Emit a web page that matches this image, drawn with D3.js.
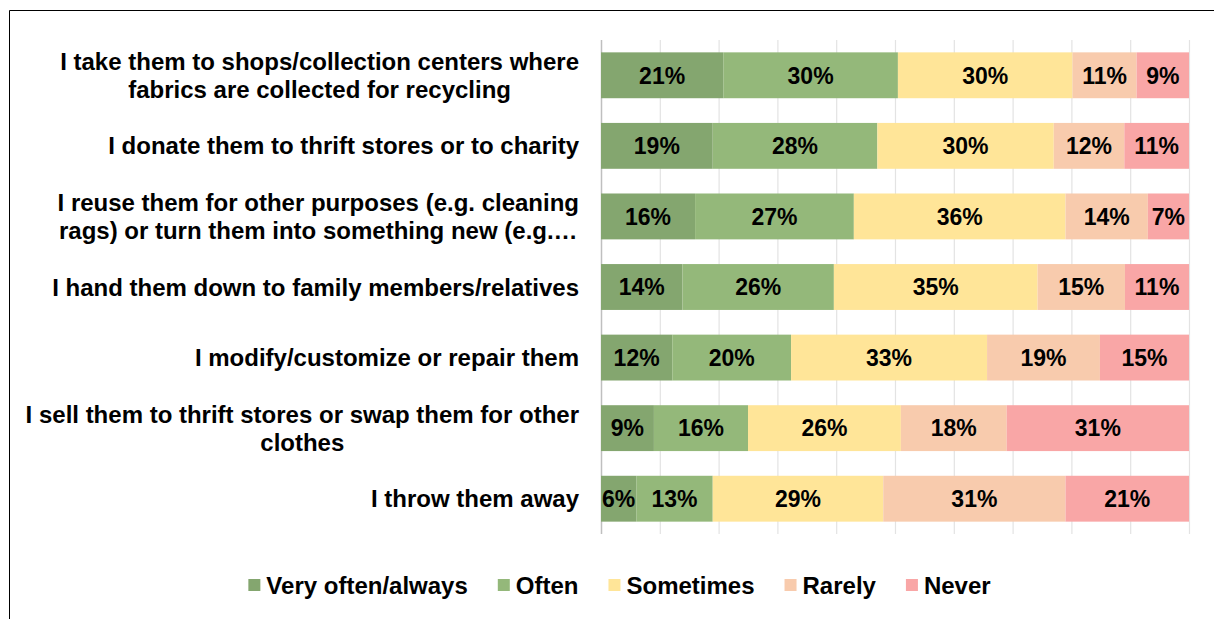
<!DOCTYPE html>
<html>
<head>
<meta charset="utf-8">
<script src="https://cdn.jsdelivr.net/npm/d3@7"></script>
<style>
  html, body { margin: 0; padding: 0; background: #fff; }
  svg { display: block; font-family: "Liberation Sans", Arial, sans-serif; font-weight: bold; }
</style>
</head>
<body>
<svg id="chart" width="1214" height="619"></svg>
<script>
// Answers per item, in percent of respondents
const categories = [
  ["I take them to shops/collection centers where", "fabrics are collected for recycling"],
  ["I donate them to thrift stores or to charity"],
  ["I reuse them for other purposes (e.g. cleaning", "rags) or turn them into something new (e.g.\u2026"],
  ["I hand them down to family members/relatives"],
  ["I modify/customize or repair them"],
  ["I sell them to thrift stores or swap them for other", "clothes"],
  ["I throw them away"]
];
const seriesNames = ["Very often/always", "Often", "Sometimes", "Rarely", "Never"];
const veryOften = [21, 19, 16, 14, 12, 9, 6];
const often     = [30, 28, 27, 26, 20, 16, 13];
const sometimes = [30, 30, 36, 35, 33, 26, 29];
const rarely    = [11, 12, 14, 15, 19, 18, 31];
const never     = [9, 11, 7, 11, 15, 31, 21];
const seriesColors = ["#84a66f", "#94b87a", "#ffe598", "#f8cbad", "#f9a6a6"];
const gridTicks = [0, 0.1, 0.2, 0.3, 0.4, 0.5, 0.6, 0.7, 0.8, 0.9, 1];

const svg = d3.select("#chart");

// outer frame (top and left edges)
svg.append("path")
  .attr("d", "M9.5,619V10.5H1214")
  .attr("fill", "none")
  .attr("stroke", "#000")
  .attr("stroke-width", 1);

const rows = categories.map((c, i) => ({
  key: i,
  "Very often/always": veryOften[i],
  "Often": often[i],
  "Sometimes": sometimes[i],
  "Rarely": rarely[i],
  "Never": never[i]
}));

const stack = d3.stack()
  .keys(seriesNames)
  .offset(d3.stackOffsetExpand);
const layers = stack(rows);

const x = d3.scaleLinear().domain([0, 1]).range([601, 1189]);
const y = d3.scaleBand()
  .domain(d3.range(categories.length))
  .range([40, 534])
  .paddingInner(0.35)
  .paddingOuter(0.175);
const color = d3.scaleOrdinal().domain(seriesNames).range(seriesColors);

// vertical gridlines
svg.append("g")
  .selectAll("line")
  .data(gridTicks)
  .join("line")
  .attr("x1", d => x(d) + 0.5)
  .attr("x2", d => x(d) + 0.5)
  .attr("y1", 40)
  .attr("y2", 534)
  .attr("stroke", d => d === 0 ? "#bfbfbf" : "#e3e3e3")
  .attr("stroke-width", d => d === 0 ? 1.5 : 1.2);

// stacked bars
const layerG = svg.append("g")
  .selectAll("g")
  .data(layers)
  .join("g")
  .attr("fill", d => color(d.key));

layerG.selectAll("rect")
  .data(d => d)
  .join("rect")
  .attr("x", d => x(d[0]))
  .attr("y", (d, i) => y(i))
  .attr("width", d => x(d[1]) - x(d[0]))
  .attr("height", y.bandwidth());

// value labels
layerG.each(function (layer) {
  d3.select(this).selectAll("text")
    .data(layer)
    .join("text")
    .attr("x", d => (x(d[0]) + x(d[1])) / 2)
    .attr("y", (d, i) => y(i) + y.bandwidth() / 2)
    .attr("dy", "0.36em")
    .attr("text-anchor", "middle")
    .attr("font-size", 23)
    .attr("fill", "#000")
    .text(d => d.data[layer.key] + "%");
});

// category labels, lines centred within a right-aligned block
const labelRight = 579;
const lineGap = 28;
const catG = svg.append("g").attr("font-size", 24).attr("fill", "#000");
categories.forEach((lines, i) => {
  const cy = y(i) + y.bandwidth() / 2;
  const g = catG.append("g");
  const texts = lines.map((line, j) =>
    g.append("text")
      .attr("y", cy + (j - (lines.length - 1) / 2) * lineGap)
      .attr("dy", "0.36em")
      .attr("text-anchor", "middle")
      .text(line)
  );
  const widths = texts.map(t => t.node().getComputedTextLength());
  const blockW = d3.max(widths);
  const cx = labelRight - blockW / 2;
  texts.forEach(t => t.attr("x", cx));
});

// legend
const legendY = 585;
const sw = 12, swGap = 6, itemGap = 30;
const legend = svg.append("g").attr("font-size", 24);
const items = seriesNames.map(name => {
  const g = legend.append("g");
  g.append("rect")
    .attr("width", sw).attr("height", sw)
    .attr("y", legendY - sw / 2)
    .attr("fill", color(name));
  const t = g.append("text")
    .attr("x", sw + swGap)
    .attr("y", legendY)
    .attr("dy", "0.36em")
    .attr("fill", "#000")
    .text(name);
  return { g, w: sw + swGap + t.node().getComputedTextLength() };
});
const totalW = d3.sum(items, d => d.w) + itemGap * (items.length - 1);
let lx = 619.5 - totalW / 2;
items.forEach(it => {
  it.g.attr("transform", `translate(${lx},0)`);
  lx += it.w + itemGap;
});
</script>
</body>
</html>
